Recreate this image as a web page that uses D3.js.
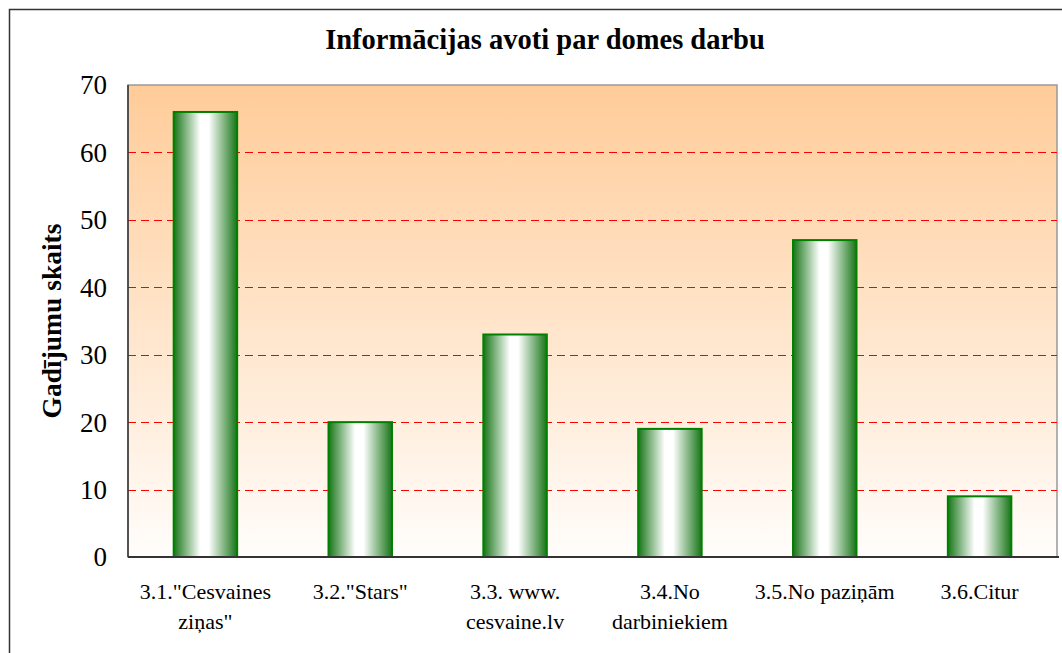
<!DOCTYPE html>
<html>
<head>
<meta charset="utf-8">
<script src="https://cdn.jsdelivr.net/npm/d3@7"></script>
<style>
  body { margin: 0; background: #fff; }
  text { font-family: "Liberation Serif", "Times New Roman", serif; }
</style>
</head>
<body>
<script>
// data
var categories = ['3.1."Cesvaines ziņas"', '3.2."Stars"', '3.3. www. cesvaine.lv', '3.4.No darbiniekiem', '3.5.No paziņām', '3.6.Citur'];
var labelLines = [['3.1."Cesvaines', 'ziņas"'], ['3.2."Stars"'], ['3.3. www.', 'cesvaine.lv'], ['3.4.No', 'darbiniekiem'], ['3.5.No paziņām'], ['3.6.Citur']];
var values = [66, 20, 33, 19, 47, 9];
var yTicks = [0, 10, 20, 30, 40, 50, 60, 70];
var title = "Informācijas avoti par domes darbu";
var yTitle = "Gadījumu skaits";

var W = 1062, H = 653;
var plot = {left: 128, top: 85, right: 1057, bottom: 557};

var svg = d3.select("body").append("svg")
    .attr("width", W)
    .attr("height", H);

var defs = svg.append("defs");
var bg = defs.append("linearGradient").attr("id", "bg")
    .attr("x1", 0).attr("y1", 0).attr("x2", 0).attr("y2", 1);
bg.append("stop").attr("offset", "0%").attr("stop-color", "#ffcc99");
bg.append("stop").attr("offset", "100%").attr("stop-color", "#fffdfb");

var barGrad = defs.append("linearGradient").attr("id", "barGrad")
    .attr("x1", 0).attr("y1", 0).attr("x2", 1).attr("y2", 0);
barGrad.append("stop").attr("offset", "0%").attr("stop-color", "#177517");
barGrad.append("stop").attr("offset", "42%").attr("stop-color", "#ffffff");
barGrad.append("stop").attr("offset", "55%").attr("stop-color", "#ffffff");
barGrad.append("stop").attr("offset", "100%").attr("stop-color", "#177517");

// outer border
svg.append("rect")
    .attr("x", 9.5).attr("y", 9.5)
    .attr("width", 1060).attr("height", 660)
    .attr("fill", "#fff").attr("stroke", "#333").attr("stroke-width", 1.5);

var x = d3.scaleBand()
    .domain(categories)
    .range([plot.left, plot.right])
    .paddingInner(0.59)
    .paddingOuter(0.295);

var y = d3.scaleLinear()
    .domain([0, 70])
    .range([plot.bottom, plot.top]);

// plot area
svg.append("rect")
    .attr("x", plot.left).attr("y", plot.top)
    .attr("width", plot.right - plot.left).attr("height", plot.bottom - plot.top)
    .attr("fill", "url(#bg)")
    .attr("stroke", "#999").attr("stroke-width", 1.5);

// grid
svg.append("g").selectAll("line")
    .data(yTicks.filter(function (d) { return d > 0 && d < 70; }))
    .enter().append("line")
    .attr("x1", plot.left).attr("x2", plot.right)
    .attr("y1", function (d) { return Math.round(y(d)) + 0.5; })
    .attr("y2", function (d) { return Math.round(y(d)) + 0.5; })
    .attr("stroke", "#ff0000")
    .attr("stroke-width", 1)
    .attr("stroke-dasharray", "8,5");

// bars
svg.append("g").selectAll("rect")
    .data(values)
    .enter().append("rect")
    .attr("x", function (d, i) { return x(categories[i]); })
    .attr("y", function (d) { return y(d); })
    .attr("width", x.bandwidth())
    .attr("height", function (d) { return y(0) - y(d); })
    .attr("fill", "url(#barGrad)")
    .attr("stroke", "#008000")
    .attr("stroke-width", 2);

// axes lines
svg.append("line")
    .attr("x1", plot.left).attr("x2", plot.left)
    .attr("y1", plot.top).attr("y2", plot.bottom)
    .attr("stroke", "#333").attr("stroke-width", 1.5);
svg.append("line")
    .attr("x1", plot.left).attr("x2", plot.right + 2)
    .attr("y1", plot.bottom).attr("y2", plot.bottom)
    .attr("stroke", "#333").attr("stroke-width", 2);

// y tick labels
svg.append("g").selectAll("text")
    .data(yTicks)
    .enter().append("text")
    .attr("x", 107)
    .attr("y", function (d) { return y(d); })
    .attr("dy", "0.35em")
    .attr("text-anchor", "end")
    .attr("font-size", 27)
    .attr("fill", "#000")
    .text(function (d) { return d; });

// x labels
var xl = svg.append("g").selectAll("text")
    .data(labelLines)
    .enter().append("text")
    .attr("text-anchor", "middle")
    .attr("font-size", 22)
    .attr("fill", "#000");
xl.each(function (lines, i) {
    var t = d3.select(this);
    var cx = x(categories[i]) + x.bandwidth() / 2;
    lines.forEach(function (s, j) {
        t.append("tspan").attr("x", cx).attr("y", 599 + j * 30).text(s);
    });
});

// title
svg.append("text")
    .attr("x", 545).attr("y", 49)
    .attr("text-anchor", "middle")
    .attr("font-size", 28.5)
    .attr("font-weight", "bold")
    .text(title);

svg.append("text")
    .attr("transform", "translate(61," + ((plot.top + plot.bottom) / 2) + ") rotate(-90)")
    .attr("text-anchor", "middle")
    .attr("font-size", 27.5)
    .attr("font-weight", "bold")
    .text(yTitle);
</script>
</body>
</html>
